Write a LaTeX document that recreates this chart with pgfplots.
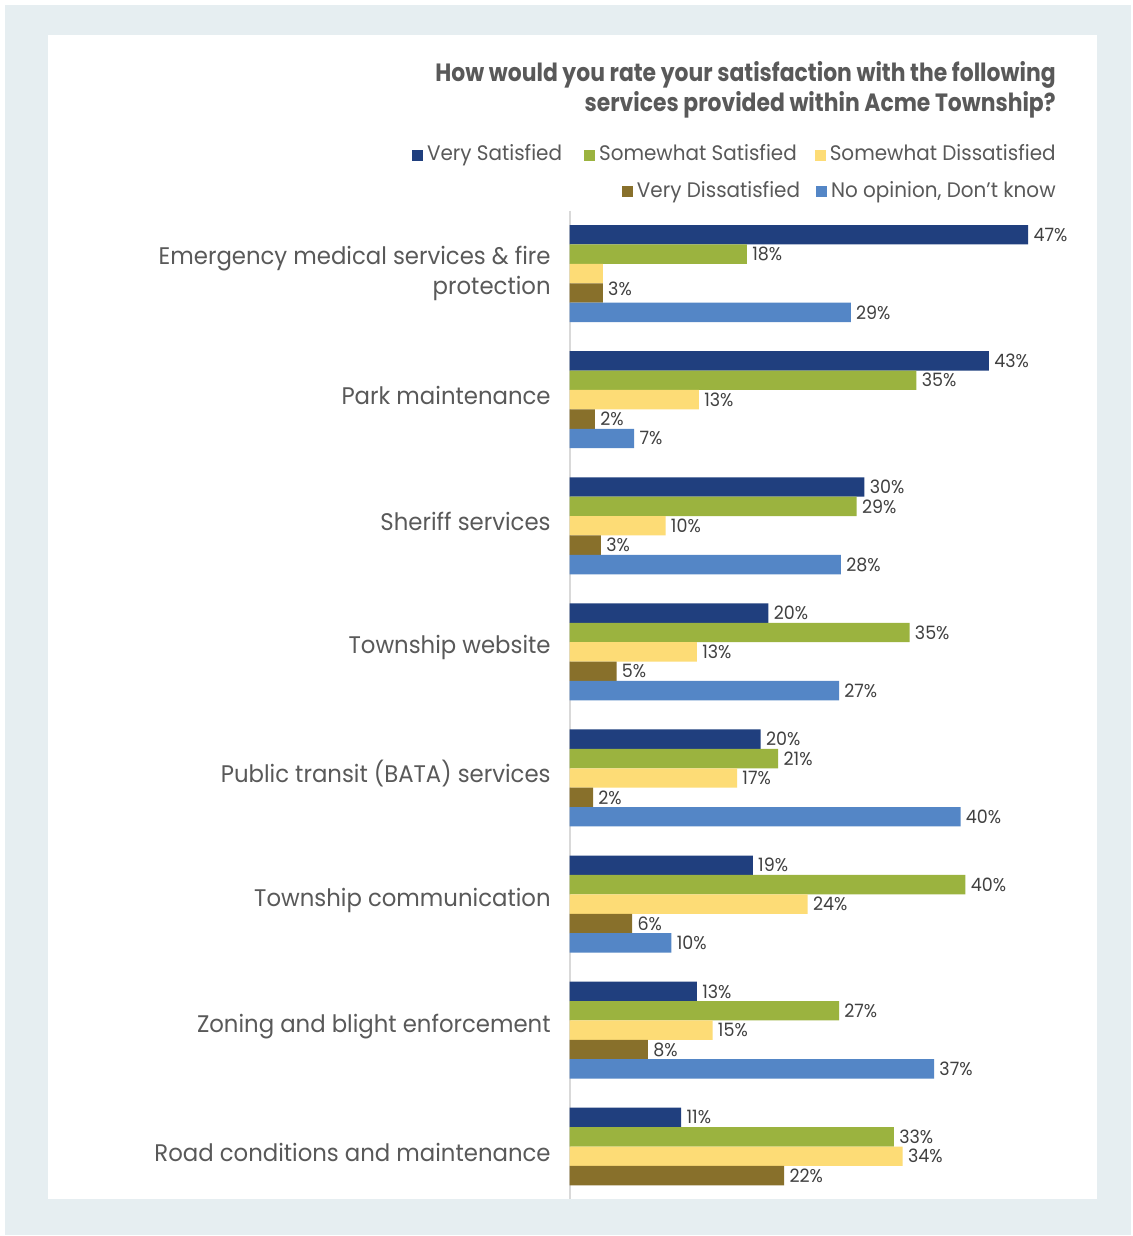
\documentclass[border=0pt]{standalone}
\usepackage{fontspec}
\setmainfont{Poppins}[FakeStretch=0.95]
\newfontfamily\titlefont{Poppins}[FakeStretch=0.875]
\usepackage{pgfplots}
\pgfplotsset{compat=1.18}
\definecolor{vs}{HTML}{203F7E}
\definecolor{ss}{HTML}{9BB33F}
\definecolor{sd}{HTML}{FDDC76}
\definecolor{vd}{HTML}{88702B}
\definecolor{no}{HTML}{5486C6}
\definecolor{txt}{HTML}{595959}
\definecolor{lbl}{HTML}{404040}
\definecolor{framebg}{HTML}{E6EEF1}
\definecolor{axisgray}{HTML}{D9D9D9}
\newcommand{\sq}[1]{\textcolor{#1}{\rule{5.5pt}{5.5pt}}\hspace{2pt}}
\begin{document}
\begin{tikzpicture}[x=0.5pt,y=-0.5pt]
\path[use as bounding box, fill=white] (0,0) rectangle (1132,1236);
\fill[framebg] (5,5) rectangle (1131,1235);
\fill[white] (48,35) rectangle (1097,1199);
\node[anchor=base east, font=\titlefont\bfseries\fontsize{12.5}{15}\selectfont, text=txt, inner sep=0pt] at (1056,82) {How would you rate your satisfaction with the following};
\node[anchor=base east, font=\titlefont\bfseries\fontsize{12.5}{15}\selectfont, text=txt, inner sep=0pt] at (1056,112) {services provided within Acme Township?};
\node[anchor=base east, font=\fontsize{10.5}{12}\selectfont, text=txt, inner sep=0pt] at (1056,161) {\sq{vs}Very Satisfied\hspace{11pt}\sq{ss}Somewhat Satisfied\hspace{9pt}\sq{sd}Somewhat Dissatisfied};
\node[anchor=base east, font=\fontsize{10.5}{12}\selectfont, text=txt, inner sep=0pt] at (1056,197) {\sq{vd}Very Dissatisfied\hspace{8pt}\sq{no}No opinion, Don't know};
\begin{axis}[
  at={(284.75pt,-105.25pt)}, anchor=north west,
  scale only axis, width=254.8pt, height=494.3pt,
  xmin=0, xmax=52, ymin=-0.5, ymax=7.34,
  y dir=reverse,
  axis x line=none,
  axis y line*=left,
  y axis line style={draw=axisgray, line width=1pt, -},
  xtick=\empty,
  ytick={0,1,2,3,4,5,6,7},
  yticklabels={{\raisebox{-5pt}[0pt][0pt]{\begin{tabular}{@{}r@{}}Emergency medical services \& fire\\protection\end{tabular}}},{Park maintenance},{Sheriff services},{Township website},{Public transit (BATA) services},{Township communication},{Zoning and blight enforcement},{Road conditions and maintenance}},
  major tick length=0pt,
  yticklabel style={align=right, font=\fontsize{12}{15}\selectfont, text=txt, inner sep=0pt, xshift=-9.25pt, yshift=2pt},
  xbar, bar width=9.7pt,
  point meta=explicit symbolic,
  nodes near coords,
  nodes near coords style={font=\fontsize{9.2}{10}\selectfont, text=lbl, anchor=west, inner sep=0pt, xshift=2.5pt},
]
\addplot[fill=vs, draw=none, bar shift=19.4pt] coordinates {(46.8,0) [47\%] (42.8,1) [43\%] (30.1,2) [30\%] (20.3,3) [20\%] (19.5,4) [20\%] (18.7,5) [19\%] (13.0,6) [13\%] (11.4,7) [11\%]};
\addplot[fill=ss, draw=none, bar shift=9.7pt] coordinates {(18.1,0) [18\%] (35.4,1) [35\%] (29.3,2) [29\%] (34.7,3) [35\%] (21.3,4) [21\%] (40.4,5) [40\%] (27.5,6) [27\%] (33.1,7) [33\%]};
\addplot[fill=sd, draw=none, bar shift=0pt] coordinates {(3.4,0) [\mbox{}] (13.2,1) [13\%] (9.8,2) [10\%] (13.0,3) [13\%] (17.1,4) [17\%] (24.3,5) [24\%] (14.6,6) [15\%] (34.0,7) [34\%]};
\addplot[fill=vd, draw=none, bar shift=-9.7pt] coordinates {(3.4,0) [\raisebox{4.5pt}{3\%}] (2.6,1) [2\%] (3.2,2) [3\%] (4.8,3) [5\%] (2.4,4) [2\%] (6.4,5) [6\%] (8.0,6) [8\%] (21.9,7) [22\%]};
\addplot[fill=no, draw=none, bar shift=-19.4pt] coordinates {(28.7,0) [29\%] (6.6,1) [7\%] (27.7,2) [28\%] (27.5,3) [27\%] (39.9,4) [40\%] (10.4,5) [10\%] (37.2,6) [37\%]};
\end{axis}
\end{tikzpicture}
\end{document}
